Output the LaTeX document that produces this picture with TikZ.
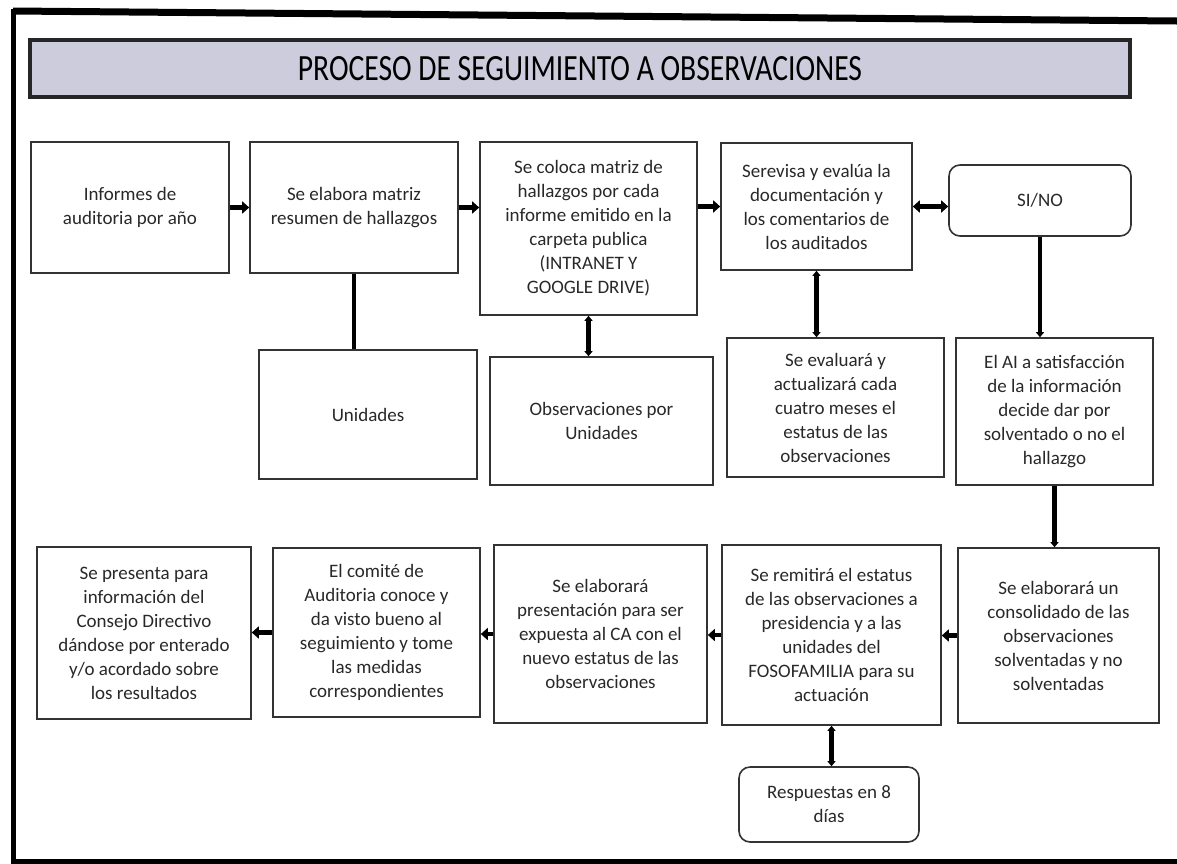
\documentclass[tikz,border=0pt]{standalone}
\usepackage{fontspec}
\setmainfont{Carlito}
\usetikzlibrary{arrows.meta}

\definecolor{bandagris}{RGB}{204,204,220}
\definecolor{tinta}{RGB}{40,40,40}

\tikzset{
  caja/.style={draw=black!80, line width=1.6pt, align=center, inner sep=2pt,
    text=tinta, font=\fontsize{19}{24}\selectfont},
  redonda/.style={caja, rounded corners=11pt},
  punta/.tip={Triangle[length=7pt,width=12pt]},
  puntita/.tip={Triangle[length=5pt,width=8pt]}
}

\begin{document}
\begin{tikzpicture}[auto,x=1pt,y=-1pt]
    \useasboundingbox (0,0) rectangle (1177,863);
    % marco
    \draw[line width=7pt] (13,11) -- (1177,21);
    \draw[line width=5pt] (13,9) -- (13,861) -- (1177,861);
    % titulo
    \node (banda) at (580,68.5) [draw=black!85, line width=3.5pt, fill=bandagris,
        minimum width=1100pt, minimum height=57pt, inner sep=0pt]
        {\scalebox{0.8}[1]{\fontsize{37}{37}\selectfont PROCESO DE SEGUIMIENTO A OBSERVACIONES}};
    \begin{scope}[every node/.style={caja}]
        \node (inf) at (130,207.5) [minimum width=198pt, minimum height=131pt] {Informes de\\auditoria por año};
        \node (mat) at (354,207.5) [minimum width=208pt, minimum height=131pt] {Se elabora matriz\\resumen de hallazgos};
        \node (car) at (588.5,228.5) [minimum width=217pt, minimum height=173pt] {Se coloca matriz de\\hallazgos por cada\\informe emitido en la\\carpeta publica\\(INTRANET Y\\GOOGLE DRIVE)};
        \node (rev) at (816.5,206.5) [minimum width=191pt, minimum height=127pt] {Serevisa y evalúa la\\documentación y\\los comentarios de\\los auditados};
        \node (sino) at (1040,200.5) [redonda, minimum width=182pt, minimum height=71pt] {SI/NO};
        \node (uni) at (368,414.5) [minimum width=218pt, minimum height=129pt] {Unidades};
        \node (obs) at (601.5,421) [minimum width=223pt, minimum height=128pt] {Observaciones por\\Unidades};
        \node (eva) at (835.5,407.5) [minimum width=217pt, minimum height=139pt] {Se evaluará y\\actualizará cada\\cuatro meses el\\estatus de las\\observaciones};
        \node (alai) at (1054.5,411.5) [minimum width=197pt, minimum height=147pt] {El AI a satisfacción\\de la información\\decide dar por\\solventado o no el\\hallazgo};
        \node (cons) at (1058.5,635.5) [minimum width=201pt, minimum height=175pt] {Se elaborará un\\consolidado de las\\observaciones\\solventadas y no\\solventadas};
        \node (rem) at (831.5,635) [minimum width=219pt, minimum height=180pt] {Se remitirá el estatus\\de las observaciones a\\presidencia y a las\\unidades del\\FOSOFAMILIA para su\\actuación};
        \node (pres) at (600.5,634) [minimum width=213pt, minimum height=178pt] {Se elaborará\\presentación para ser\\expuesta al CA con el\\nuevo estatus de las\\observaciones};
        \node (com) at (376.5,632.5) [minimum width=207pt, minimum height=169pt] {El comité de\\Auditoria conoce y\\da visto bueno al\\seguimiento y tome\\las medidas\\correspondientes};
        \node (presn) at (144,633) [minimum width=214pt, minimum height=172pt] {Se presenta para\\información del\\Consejo Directivo\\dándose por enterado\\y/o acordado sobre\\los resultados};
        \node (resp) at (829,804.5) [redonda, minimum width=180pt, minimum height=75pt] {Respuestas en 8\\días};
    \end{scope}
    \begin{scope}[every edge/.style={draw=black, line width=4.5pt}]
        \draw (inf.east) edge[-punta] (mat.west);
        \draw (mat.east) edge[-punta] (mat.east -| car.west);
        \draw (rev.west -| car.east) edge[-punta] (rev.west);
        \draw (rev.east) edge[punta-punta] (rev.east -| sino.west);
        \draw (mat.south) edge (mat.south |- uni.north);
        \draw (car.south) edge[puntita-puntita] (car.south |- obs.north);
        \draw (rev.south) edge[puntita-puntita] (rev.south |- eva.north);
        \draw (sino.south) edge[-puntita] (sino.south |- alai.north);
        \draw (alai.south) edge[-puntita] (alai.south |- cons.north);
        \draw (cons.west) edge[-punta] (cons.west -| rem.east);
        \draw (rem.west) edge[-punta] (rem.west -| pres.east);
        \draw (pres.west) edge[-punta] (pres.west -| com.east);
        \draw (com.west) edge[-punta] (com.west -| presn.east);
        \draw (rem.south) edge[puntita-puntita] (rem.south |- resp.north);
    \end{scope}
\end{tikzpicture}
\end{document}
